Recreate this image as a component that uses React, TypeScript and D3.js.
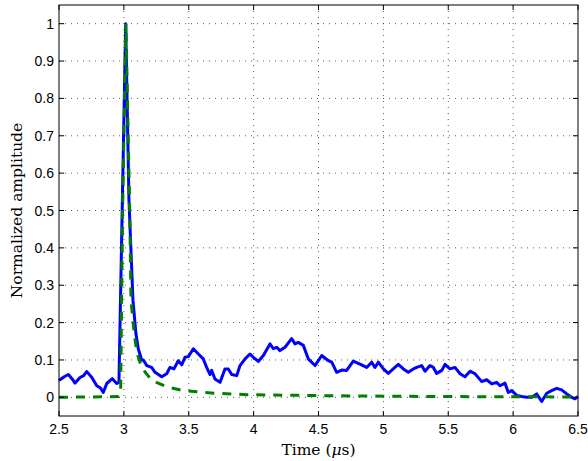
import * as d3 from "d3";
import { useEffect, useRef } from "react";

// measured signal (blue)
const measTime = [
  2.5, 2.508, 2.54, 2.572, 2.6, 2.623, 2.662, 2.69, 2.713, 2.752, 2.791, 2.82, 2.841, 2.868, 2.911, 2.945, 2.962,
  2.988, 3.014, 3.039, 3.07, 3.093, 3.111, 3.137, 3.15, 3.176, 3.214, 3.24, 3.292, 3.33, 3.355, 3.386, 3.419,
  3.446, 3.471, 3.497, 3.535, 3.574, 3.612, 3.638, 3.664, 3.677, 3.702, 3.741, 3.779, 3.805, 3.831, 3.87,
  3.895, 3.934, 3.972, 3.998, 4.036, 4.075, 4.126, 4.152, 4.178, 4.203, 4.242, 4.293, 4.319, 4.344, 4.383,
  4.421, 4.473, 4.525, 4.576, 4.602, 4.64, 4.679, 4.717, 4.768, 4.82, 4.871, 4.91, 4.935, 4.961, 5.0, 5.038,
  5.076, 5.115, 5.154, 5.192, 5.231, 5.257, 5.295, 5.321, 5.359, 5.385, 5.411, 5.45, 5.475, 5.513, 5.552,
  5.591, 5.629, 5.668, 5.706, 5.758, 5.796, 5.835, 5.873, 5.899, 5.937, 5.963, 5.989, 6.028, 6.066, 6.105,
  6.143, 6.182, 6.22, 6.259, 6.297, 6.336, 6.374, 6.413, 6.451, 6.477, 6.5
];
const measValue = [
  0.05, 0.047, 0.055, 0.061, 0.05, 0.038, 0.053, 0.058, 0.069, 0.054, 0.031, 0.025, 0.013, 0.037, 0.05, 0.037, 0.04,
  0.52, 1.0, 0.53, 0.26, 0.17, 0.13, 0.1, 0.1, 0.085, 0.08, 0.067, 0.055, 0.063, 0.08, 0.076, 0.098,
  0.087, 0.107, 0.109, 0.13, 0.116, 0.103, 0.08, 0.061, 0.072, 0.049, 0.04, 0.076, 0.076, 0.061, 0.058,
  0.085, 0.103, 0.116, 0.107, 0.096, 0.112, 0.143, 0.13, 0.134, 0.125, 0.134, 0.157, 0.143, 0.147, 0.139,
  0.103, 0.085, 0.112, 0.098, 0.094, 0.067, 0.073, 0.072, 0.097, 0.089, 0.08, 0.094, 0.08, 0.094, 0.076, 0.064,
  0.076, 0.088, 0.076, 0.067, 0.076, 0.08, 0.085, 0.07, 0.085, 0.08, 0.064, 0.072, 0.088, 0.076, 0.08,
  0.063, 0.055, 0.07, 0.063, 0.042, 0.047, 0.036, 0.04, 0.031, 0.038, 0.013, 0.018, 0.005, 0.002, 0.0,
  0.0, 0.009, -0.011, 0.011, 0.018, 0.024, 0.02, 0.009, 0.0, -0.004, 0.002
];

// model (green dashed)
const modelTime = [2.5, 2.96, 2.975, 2.99, 3.016, 3.045, 3.055, 3.08, 3.1, 3.137, 3.214, 3.342, 3.46, 3.7, 3.95, 4.4, 5.0, 5.5, 6.5];
const modelValue = [0, 0.002, 0.01, 0.5, 1.0, 0.5, 0.26, 0.17, 0.12, 0.08, 0.045, 0.027, 0.018, 0.011, 0.007, 0.005, 0.003, 0.002, 0.001];

const xTicks = [2.5, 3, 3.5, 4, 4.5, 5, 5.5, 6, 6.5];
const yTicks = [0, 0.1, 0.2, 0.3, 0.4, 0.5, 0.6, 0.7, 0.8, 0.9, 1];

const App = () => {
  const chartRef = useRef(null);

  const width = 588;
  const height = 461;
  const margin = { top: 5, bottom: 45, left: 59, right: 10 };
  const boundsWidth = width - margin.left - margin.right;
  const boundsHeight = height - margin.top - margin.bottom;

  useEffect(() => {
    const svg = d3.select(chartRef.current);
    svg.selectAll("*").remove();

    const x = d3.scaleLinear().domain([2.5, 6.5]).range([0, boundsWidth]);
    const y = d3.scaleLinear().domain([-0.05, 1.05]).range([boundsHeight, 0]);

    const g = svg.append("g").attr("transform", `translate(${margin.left}, ${margin.top})`);

    g.append("rect").attr("width", boundsWidth).attr("height", boundsHeight).attr("fill", "#fff");

    // сетка
    g.selectAll(".gx")
      .data(xTicks.slice(1, -1)).enter()
      .append("line")
      .attr("x1", d => x(d)).attr("x2", d => x(d))
      .attr("y1", 0).attr("y2", boundsHeight)
      .attr("stroke", "#333").attr("stroke-width", 0.8)
      .attr("stroke-dasharray", "1,5");
    g.selectAll(".gy")
      .data(yTicks).enter()
      .append("line")
      .attr("x1", 0).attr("x2", boundsWidth)
      .attr("y1", d => y(d)).attr("y2", d => y(d))
      .attr("stroke", "#333").attr("stroke-width", 0.8)
      .attr("stroke-dasharray", "1,5");

    // линии
    const lineGen = d3.line<number[]>().x(d => x(d[0])).y(d => y(d[1]));
    g.append("path")
      .attr("d", lineGen(measTime.map((t, i) => [t, measValue[i]])))
      .attr("fill", "none").attr("stroke", "#0000ff")
      .attr("stroke-width", 3).attr("stroke-linejoin", "round");
    g.append("path")
      .attr("d", lineGen(modelTime.map((t, i) => [t, modelValue[i]])))
      .attr("fill", "none").attr("stroke", "#008000")
      .attr("stroke-width", 3).attr("stroke-dasharray", "9,8");

    // рамка и засечки
    g.append("rect").attr("width", boundsWidth).attr("height", boundsHeight)
      .attr("fill", "none").attr("stroke", "#000").attr("stroke-width", 1);
    const tl = 5;
    xTicks.forEach(t => {
      g.append("line").attr("x1", x(t)).attr("x2", x(t)).attr("y1", boundsHeight).attr("y2", boundsHeight - tl).attr("stroke", "#000");
      g.append("line").attr("x1", x(t)).attr("x2", x(t)).attr("y1", 0).attr("y2", tl).attr("stroke", "#000");
      g.append("text").attr("x", x(t)).attr("y", boundsHeight + 17.5)
        .attr("text-anchor", "middle").attr("font-family", "'Liberation Sans', Arial, sans-serif")
        .attr("font-size", 14).text(t);
    });
    yTicks.forEach(v => {
      g.append("line").attr("x1", 0).attr("x2", tl).attr("y1", y(v)).attr("y2", y(v)).attr("stroke", "#000");
      g.append("line").attr("x1", boundsWidth).attr("x2", boundsWidth - tl).attr("y1", y(v)).attr("y2", y(v)).attr("stroke", "#000");
      g.append("text").attr("x", -5).attr("y", y(v)).attr("dy", "0.36em")
        .attr("text-anchor", "end").attr("font-family", "'Liberation Sans', Arial, sans-serif")
        .attr("font-size", 14).text(v);
    });

    // подписи осей
    const xl = svg.append("text")
      .attr("x", margin.left + boundsWidth / 2).attr("y", 455)
      .attr("text-anchor", "middle").attr("font-family", "'DejaVu Serif', serif")
      .attr("font-size", 15.5);
    xl.append("tspan").text("Time (");
    xl.append("tspan").attr("font-style", "italic").text("μ");
    xl.append("tspan").text("s)");

    svg.append("text")
      .attr("transform", `translate(22, ${margin.top + boundsHeight / 2}) rotate(-90)`)
      .attr("text-anchor", "middle").attr("font-family", "'DejaVu Serif', serif")
      .attr("font-size", 15.5).text("Normalized amplitude");
  }, []);

  return (
    <svg ref={chartRef} width={width} height={height}
      style={{ position: "absolute", left: 0, top: 0, background: "#fff" }}></svg>
  );
};

export default App;
